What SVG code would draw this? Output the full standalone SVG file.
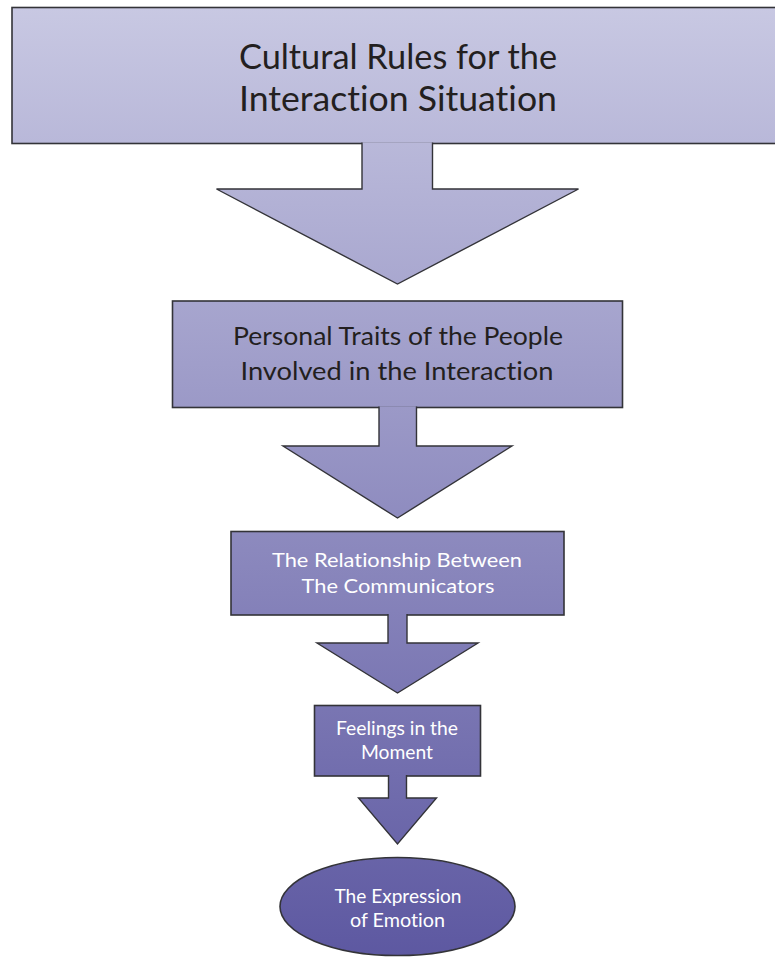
<svg xmlns="http://www.w3.org/2000/svg" width="775" height="957" viewBox="0 0 775 957">
  <defs>
    <!-- one shared vertical shade: pale lavender at the top, deep violet at the bottom -->
    <linearGradient id="shade" gradientUnits="userSpaceOnUse" x1="0" y1="0" x2="0" y2="957">
      <stop offset="0" stop-color="#c9c9e3"/>
      <stop offset="1" stop-color="#5d58a1"/>
    </linearGradient>
  </defs>
  <style>
    .shape { fill: url(#shade); stroke: #333338; stroke-width: 1.6; }
    .arrow { fill: url(#shade); stroke: #333338; stroke-width: 1.4; stroke-linejoin: miter; }
    text { font-family: Lato, "Open Sans", "Liberation Sans", sans-serif; text-anchor: middle;
           font-variant-ligatures: none; font-feature-settings: "liga" 0, "clig" 0, "dlig" 0; }
    .dark { fill: #231f20; }
    .light { fill: #ffffff; }
  </style>

  <rect width="775" height="957" fill="#ffffff"/>

  <!-- step 1 -->
  <g id="cultural-rules">
    <rect class="shape" x="12" y="7.5" width="775" height="136"/>
    <text class="dark" font-size="34" x="398" y="69" textLength="318" lengthAdjust="spacingAndGlyphs">Cultural Rules for the</text>
    <text class="dark" font-size="34" x="398" y="111" textLength="318" lengthAdjust="spacingAndGlyphs">Interaction Situation</text>
  </g>

  <!-- step 2 -->
  <g id="personal-traits">
    <rect class="shape" x="172.5" y="301" width="450" height="106.5"/>
    <text class="dark" font-size="25" x="398" y="345" textLength="330" lengthAdjust="spacingAndGlyphs">Personal Traits of the People</text>
    <text class="dark" font-size="25" x="397" y="380" textLength="313" lengthAdjust="spacingAndGlyphs">Involved in the Interaction</text>
  </g>

  <!-- step 3 -->
  <g id="relationship">
    <rect class="shape" x="231" y="531.5" width="333" height="83.5"/>
    <text class="light" font-size="20" x="397" y="566.5" textLength="250" lengthAdjust="spacingAndGlyphs">The Relationship Between</text>
    <text class="light" font-size="20" x="398" y="593" textLength="193" lengthAdjust="spacingAndGlyphs">The Communicators</text>
  </g>

  <!-- step 4 -->
  <g id="feelings">
    <rect class="shape" x="314.5" y="705.5" width="166" height="70.5"/>
    <text class="light" font-size="19.5" x="397" y="735" textLength="122" lengthAdjust="spacingAndGlyphs">Feelings in the</text>
    <text class="light" font-size="19.5" x="397" y="759" textLength="72" lengthAdjust="spacingAndGlyphs">Moment</text>
  </g>

  <!-- outcome -->
  <g id="expression">
    <ellipse class="shape" cx="397.5" cy="906.5" rx="117.5" ry="49"/>
    <text class="light" font-size="19.5" x="398" y="902.5" textLength="127" lengthAdjust="spacingAndGlyphs">The Expression</text>
    <text class="light" font-size="19.5" x="397.5" y="926.5" textLength="95" lengthAdjust="spacingAndGlyphs">of Emotion</text>
  </g>

  <!-- block arrows joining the steps (open at the top so they merge with the box above) -->
  <g id="connectors">
    <path class="arrow" d="M362,142.5 V189 H216.5 L397.5,284 L578.5,189 H432.5 V142.5"/>
    <path class="arrow" d="M379,406.5 V446 H283 L397.5,518 L512,446 H416.5 V406.5"/>
    <path class="arrow" d="M388,614 V643 H317 L397.5,693 L478,643 H407 V614"/>
    <path class="arrow" d="M388.5,775 V798 H358.5 L397.5,844 L436.5,798 H406.5 V775"/>
  </g>
</svg>
